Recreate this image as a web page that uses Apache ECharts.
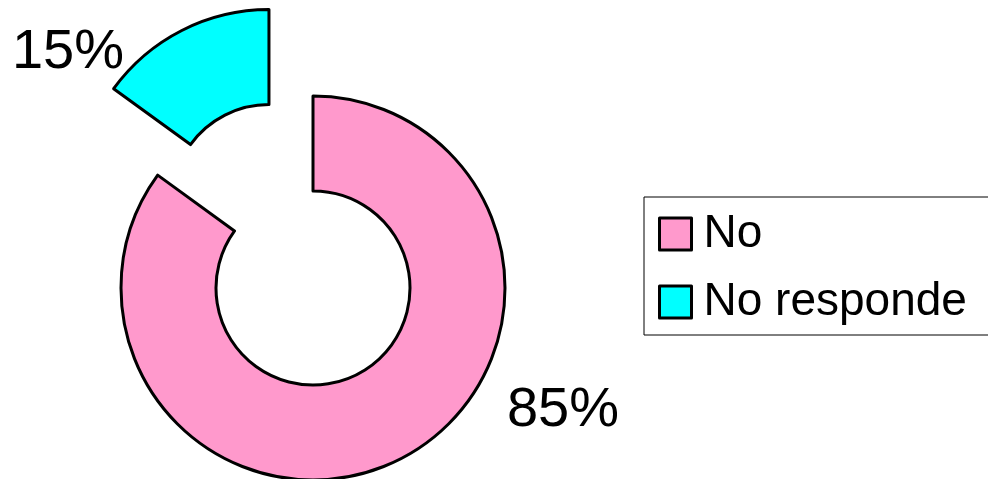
<!DOCTYPE html>
<html>
<head>
<meta charset="utf-8">
<script src="https://cdn.jsdelivr.net/npm/echarts@6/dist/echarts.min.js"></script>
<style>
  html, body { margin: 0; padding: 0; background: #fff; }
  #chart { width: 988px; height: 479px; }
</style>
</head>
<body>
<div id="chart"></div>
<script>
// Survey answers, in percent
const categories = ['No', 'No responde'];
const values = [85, 15];
const colors = ['#FF99CC', '#00FFFF'];
// The smaller share is pulled out of the ring
const explodedIndex = 1;

const chart = echarts.init(document.getElementById('chart'), null, { renderer: 'canvas' });

const CENTER = [313, 288];
const RADIUS = [97, 192];
const PULL = 97;
const FONT = 'Liberation Sans, Arial, sans-serif';

// Where the pulled-out slice sits: shifted along its own bisector
const total = values.reduce((a, b) => a + b, 0);
const before = values.slice(0, explodedIndex).reduce((a, b) => a + b, 0);
const midAngle = (before + values[explodedIndex] / 2) / total * 2 * Math.PI; // clockwise from 12 o'clock
const pulledCenter = [
  CENTER[0] + Math.sin(midAngle) * PULL,
  CENTER[1] - Math.cos(midAngle) * PULL
];

// Label anchor points for each slice's percentage
const labelSpots = [
  { x: 563, y: 411 },
  { x: 68, y: 53 }
];

// Each ring series draws only the slices it owns; the rest stay invisible
function ringData(visible) {
  return categories.map((name, i) => {
    const shown = visible(i);
    return {
      name: name,
      value: values[i],
      itemStyle: shown
        ? { color: colors[i], borderColor: '#000', borderWidth: 3 }
        : { color: 'rgba(0,0,0,0)', borderWidth: 0 },
      label: { show: shown }
    };
  });
}

function ringSeries(center, visible) {
  return {
    type: 'pie',
    center: center,
    radius: RADIUS,
    startAngle: 90,
    clockwise: true,
    silent: true,
    avoidLabelOverlap: false,
    emphasis: { disabled: true },
    label: {
      position: 'outside',
      formatter: '{c}%',
      fontFamily: FONT,
      fontSize: 56,
      color: '#000'
    },
    labelLine: { show: false },
    labelLayout: function (params) {
      const p = labelSpots[params.dataIndex];
      return { x: p.x, y: p.y, align: 'center', verticalAlign: 'middle' };
    },
    data: ringData(visible)
  };
}

chart.setOption({
  animation: false,
  backgroundColor: '#ffffff',
  legend: {
    orient: 'vertical',
    left: 644,
    top: 197,
    padding: [14, 80, 10, 14],
    itemWidth: 32,
    itemHeight: 32,
    itemGap: 22,
    borderColor: '#000',
    borderWidth: 1,
    selectedMode: false,
    icon: 'rect',
    textStyle: {
      fontFamily: FONT,
      fontSize: 46,
      lineHeight: 46,
      color: '#000',
      padding: [0, 0, 0, 7]
    },
    data: categories.map((name, i) => ({
      name: name,
      itemStyle: { color: colors[i], borderColor: '#000', borderWidth: 3 }
    }))
  },
  series: [
    ringSeries(CENTER, i => i !== explodedIndex),
    ringSeries(pulledCenter, i => i === explodedIndex)
  ]
});
</script>
</body>
</html>
